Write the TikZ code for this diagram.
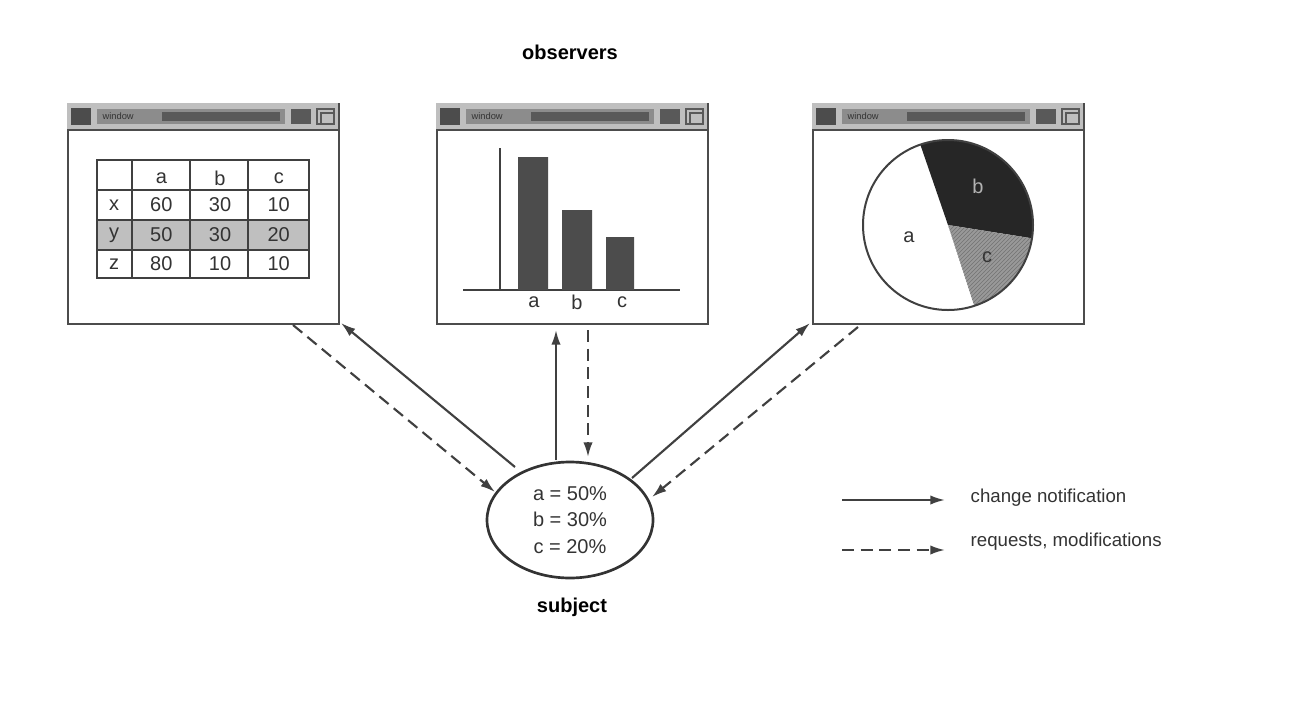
\documentclass[tikz,border=0pt]{standalone}
\usepackage{fontspec}
\setmainfont{Liberation Sans}
\usetikzlibrary{arrows.meta,patterns,shapes.geometric}
\begin{document}
\begin{tikzpicture}[x=0.75pt,y=-0.75pt,
  win/.style={draw=black!70,line width=1.5pt,fill=white},
  conn/.style={line width=1.6pt,draw=black!75,-{Latex[length=11pt,width=7pt]}},
  dconn/.style={conn,dash pattern=on 9pt off 5pt},
  lbl/.style={font=\fontsize{15}{17}\selectfont,text=black!80},
  bold/.style={font=\bfseries\fontsize{15}{17}\selectfont}]
\useasboundingbox (0,0) rectangle (1300,708);
\newcommand\winframe[2]{%
  \node[win,minimum width=271*0.75pt,minimum height=220*0.75pt,anchor=north west,inner sep=0] (#2) at (#1,103) {};
  \fill[black!25] (#1,103) rectangle ++(271,27);
  \draw[black!70,line width=1pt] (#1,130) -- ++(271,0);
  \fill[black!70] (#1+4,108) rectangle ++(20,17);
  \fill[black!45] (#1+30,109) rectangle ++(188,15);
  \fill[black!65] (#1+95,112) rectangle ++(118,9);
  \node[anchor=west,font=\fontsize{7}{8}\selectfont,text=black!80,inner sep=1pt] at (#1+34,116) {window};
  \fill[black!65] (#1+224,109) rectangle ++(20,15);
  \draw[black!65,line width=1pt] (#1+250,109) rectangle ++(17,15) (#1+254,124) -- ++(0,-11) -- ++(13,0);
}
\winframe{67}{w1}
\winframe{436}{w2}
\winframe{812}{w3}
% table
\fill[black!25] (97,220) rectangle (309,250);
\draw[black!75,line width=1.2pt] (97,160) rectangle (309,278);
\foreach \y in {190,220,250} \draw[black!75,line width=1.2pt] (97,\y) -- (309,\y);
\foreach \x in {132,190,248} \draw[black!75,line width=1.2pt] (\x,160) -- (\x,278);
\foreach \t [count=\i] in {a,b,c} {\node[lbl] at ({132+(\i-0.5)*58.7},178) {\t};}
\foreach \r/\yy in {{x,60,30,10}/205,{y,50,30,20}/235,{z,80,10,10}/264} {
  \foreach \t [count=\i] in \r {
    \ifnum\i=1 \node[lbl] at (114,\yy) {\t};\else \node[lbl] at ({132+(\i-1.5)*58.7},\yy) {\t};\fi }}
% bar chart
\draw[black!75,line width=1.2pt] (500,148) -- (500,290) (463,290) -- (680,290);
\fill[black!70] (518,157) rectangle (548,290) (562,210) rectangle (592,290) (606,237) rectangle (634,290);
\node[lbl] at (534,302) {a};\node[lbl] at (577,302) {b};\node[lbl] at (622,302) {c};
% pie
\begin{scope}[shift={(948,225)},y=0.75pt]
\fill[black!85] (0,0) -- (-9:85) arc[start angle=-9,end angle=109,radius=85] -- cycle;
\fill[black!40] (0,0) -- (-72:85) arc[start angle=-72,end angle=-9,radius=85] -- cycle;
\fill[pattern=north east lines,pattern color=black!55] (0,0) -- (-72:85) arc[start angle=-72,end angle=-9,radius=85] -- cycle;
\draw[black!75,line width=1.5pt] (0,0) circle[radius=85];
\end{scope}
\node[lbl,text=black!30] at (978,186) {b};
\node[lbl] at (987,257) {c};
\node[lbl] at (909,237) {a};
% subject
\node[draw=black!80,line width=2pt,ellipse,minimum width=166*0.75pt,minimum height=116*0.75pt,inner sep=0] (s) at (570,520) {};
\node[lbl,align=center,font=\fontsize{15}{20}\selectfont] at (570,520) {a = 50\%\\b = 30\%\\c = 20\%};
\node[bold] at (572,607) {subject};
\node[bold] at (570,52) {observers};
% connectors
\coordinate (s1) at (515,467); \coordinate (t1) at (341,323);
\coordinate (d1a) at (293,325); \coordinate (d1b) at (495,492);
\coordinate (s2) at (556,460); \coordinate (t2) at (556,330);
\coordinate (d2a) at (588,330); \coordinate (d2b) at (588,457);
\coordinate (s3) at (632,478); \coordinate (t3) at (810,323);
\coordinate (d3a) at (858,327); \coordinate (d3b) at (652,497);
\draw[conn] (s1) -- (t1); \draw[dconn] (d1a) -- (d1b);
\draw[conn] (s2) -- (t2); \draw[dconn] (d2a) -- (d2b);
\draw[conn] (s3) -- (t3); \draw[dconn] (d3a) -- (d3b);
% legend
\coordinate (l1a) at (842,500); \coordinate (l1b) at (945,500);
\coordinate (l2a) at (842,550); \coordinate (l2b) at (945,550);
\draw[conn] (l1a) -- (l1b); \draw[dconn] (l2a) -- (l2b);
\node[lbl,anchor=west,font=\fontsize{14}{16}\selectfont] (n1) at (966,498) {change notification};
\node[lbl,anchor=west,font=\fontsize{14}{16}\selectfont] (n2) at (966,542) {requests, modifications};
\end{tikzpicture}
\end{document}
